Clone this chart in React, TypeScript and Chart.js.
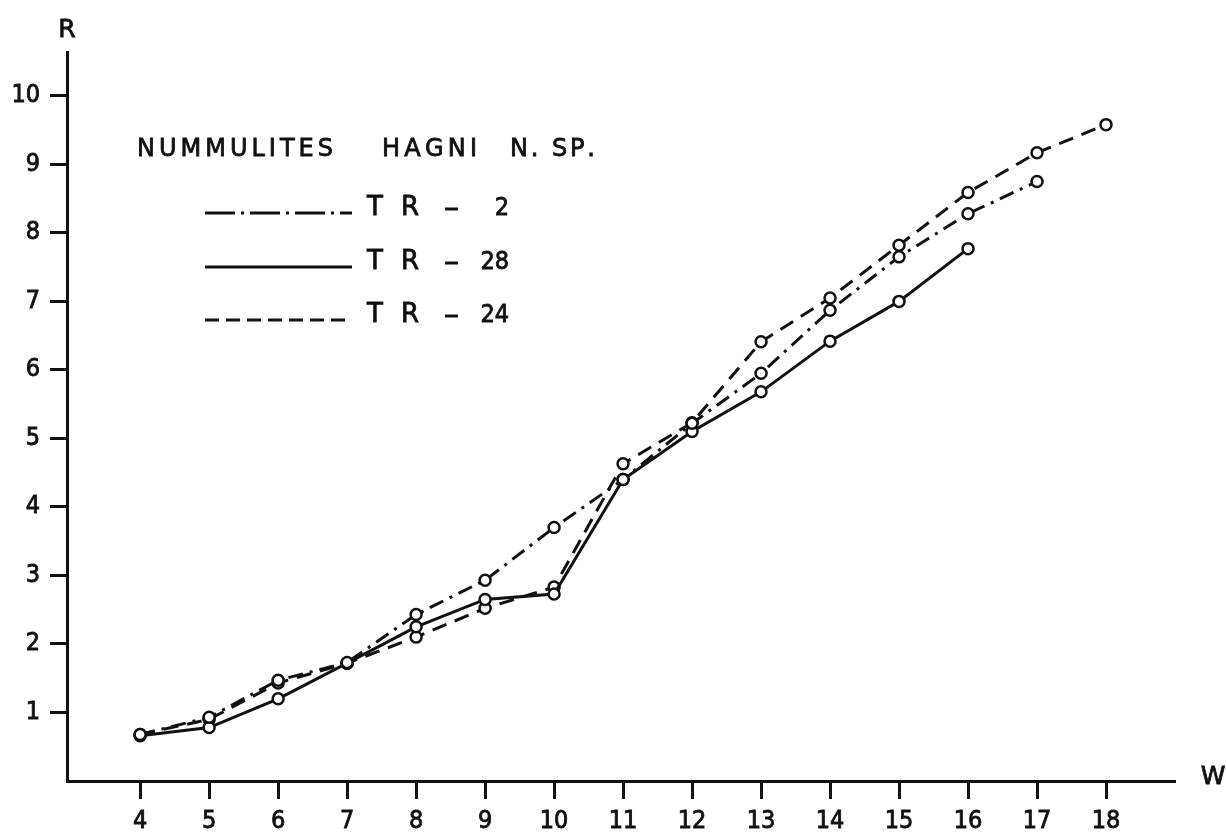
import React, { useEffect, useRef } from "react";
import { Chart, registerables } from "chart.js";

Chart.register(...registerables);

const wTicks = [4, 5, 6, 7, 8, 9, 10, 11, 12, 13, 14, 15, 16, 17, 18];
const rTicks = [1, 2, 3, 4, 5, 6, 7, 8, 9, 10];

const w_TR2 = [4, 5, 6, 7, 8, 9, 10, 11, 12, 13, 14, 15, 16, 17];
const r_TR2 = [0.68, 0.93, 1.47, 1.73, 2.43, 2.93, 3.7, 4.4, 5.22, 5.95, 6.87, 7.65, 8.28, 8.75];

const w_TR28 = [4, 5, 6, 7, 8, 9, 10, 11, 12, 13, 14, 15, 16];
const r_TR28 = [0.66, 0.78, 1.2, 1.72, 2.25, 2.65, 2.73, 4.4, 5.1, 5.68, 6.42, 7.0, 7.77];

const w_TR24 = [4, 5, 6, 7, 8, 9, 10, 11, 12, 13, 14, 15, 16, 17, 18];
const r_TR24 = [0.68, 0.9, 1.43, 1.72, 2.1, 2.52, 2.83, 4.63, 5.23, 6.41, 7.05, 7.82, 8.59, 9.17, 9.58];

const seriesNames = ["TR", "TR", "TR"];
const seriesNums = ["2", "28", "24"];
const titleWords = ["NUMMULITES", "HAGNI", "N. SP."];

const FONT = "'DejaVu Sans', sans-serif";
const FONT_C = "'DejaVu Sans Condensed', 'DejaVu Sans', sans-serif";
const INK = "#111";

const dashDot = [15, 7, 3, 7];
const dashed = [15, 9];

function pts(xs: number[], ys: number[]) {
  return xs.map((x, i) => ({ x, y: ys[i] }));
}

function drawSpaced(ctx: CanvasRenderingContext2D, text: string, x0: number, x1: number, y: number) {
  const chars = text.split("");
  const widths = chars.map((c) => ctx.measureText(c).width);
  const total = widths.reduce((a, b) => a + b, 0);
  const gap = chars.length > 1 ? (x1 - x0 - total) / (chars.length - 1) : 0;
  let x = x0;
  ctx.textAlign = "left";
  chars.forEach((c, i) => {
    ctx.fillText(c, x, y);
    ctx.strokeText(c, x, y);
    x += widths[i] + gap;
  });
}

const annotations = {
  id: "annotations",
  afterDraw(chart: any) {
    const ctx = chart.ctx as CanvasRenderingContext2D;
    ctx.save();
    ctx.fillStyle = INK;
    ctx.strokeStyle = INK;
    ctx.textBaseline = "middle";
    ctx.lineWidth = 0.8;
    // axis letters
    ctx.font = `25px ${FONT}`;
    ctx.textAlign = "center";
    ctx.fillText("R", 67, 30);
    ctx.strokeText("R", 67, 30);
    ctx.fillText("W", 1213, 777);
    ctx.strokeText("W", 1213, 777);
    // title
    ctx.font = `24px ${FONT}`;
    drawSpaced(ctx, titleWords[0], 137, 333, 150);
    drawSpaced(ctx, titleWords[1], 382, 477, 150);
    drawSpaced(ctx, titleWords[2], 510, 595, 150);
    // legend
    const rows = [213, 267, 320];
    const dashes = [[30, 6, 3, 6], [], [14, 7]];
    rows.forEach((y, i) => {
      ctx.beginPath();
      ctx.lineWidth = 3;
      ctx.setLineDash(dashes[i]);
      ctx.moveTo(205, y);
      ctx.lineTo(352, y);
      ctx.stroke();
      ctx.setLineDash([]);
      const ty = y - 5;
      ctx.beginPath();
      ctx.moveTo(445, ty + 1);
      ctx.lineTo(458, ty + 1);
      ctx.stroke();
      ctx.lineWidth = 0.8;
      ctx.font = `26px ${FONT}`;
      drawSpaced(ctx, seriesNames[i], 367, 419, ty);
      ctx.font = `25px ${FONT_C}`;
      ctx.textAlign = "right";
      ctx.fillText(seriesNums[i], 509, ty);
      ctx.strokeText(seriesNums[i], 509, ty);
    });
    ctx.restore();
  },
};

export default function App() {
  const ref = useRef<HTMLCanvasElement>(null);
  useEffect(() => {
    document.body.style.margin = "0";
    const common = {
      borderColor: INK,
      borderWidth: 3,
      pointRadius: 5.5,
      pointBorderWidth: 2.5,
      pointBorderColor: INK,
      pointBackgroundColor: "#fff",
      showLine: true,
      tension: 0,
      fill: false,
    };
    const chart = new Chart(ref.current!, {
      type: "scatter",
      data: {
        datasets: [
          { label: "TR - 2", data: pts(w_TR2, r_TR2), borderDash: dashDot, ...common },
          { label: "TR - 28", data: pts(w_TR28, r_TR28), ...common },
          { label: "TR - 24", data: pts(w_TR24, r_TR24), borderDash: dashed, ...common },
        ],
      },
      options: {
        animation: false,
        responsive: false,
        devicePixelRatio: 1,
        layout: { padding: { top: 52, right: 51, left: 0, bottom: 0 } },
        plugins: { legend: { display: false }, tooltip: { enabled: false } },
        scales: {
          x: {
            type: "linear",
            min: 2.94,
            max: 19,
            afterBuildTicks: (s: any) => {
              s.ticks = wTicks.map((v) => ({ value: v }));
            },
            afterFit: (s: any) => {
              s.height = 54;
            },
            ticks: {
              autoSkip: false,
              maxRotation: 0,
              color: INK,
              padding: 7,
              textStrokeColor: INK,
              textStrokeWidth: 0.8,
              font: { family: FONT_C, size: 25 },
            },
            grid: {
              drawOnChartArea: false,
              drawTicks: true,
              tickLength: 18,
              tickWidth: 3,
              tickColor: INK,
            },
            border: { display: true, color: INK, width: 3 },
          },
          y: {
            type: "linear",
            min: 0,
            max: 10.64,
            afterBuildTicks: (s: any) => {
              s.ticks = rTicks.map((v) => ({ value: v }));
            },
            afterFit: (s: any) => {
              s.width = 67;
            },
            ticks: {
              autoSkip: false,
              color: INK,
              padding: 10,
              textStrokeColor: INK,
              textStrokeWidth: 0.8,
              font: { family: FONT_C, size: 25 },
            },
            grid: {
              drawOnChartArea: false,
              drawTicks: true,
              tickLength: 17,
              tickWidth: 3,
              tickColor: INK,
            },
            border: { display: true, color: INK, width: 3 },
          },
        },
      },
      plugins: [annotations],
    });
    return () => chart.destroy();
  }, []);
  return <canvas ref={ref} width={1226} height={835} style={{ display: "block" }} />;
}
